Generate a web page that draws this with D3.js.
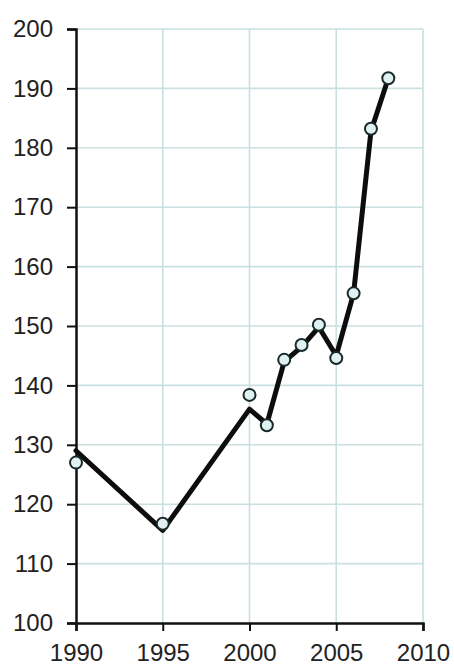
<!DOCTYPE html>
<html><head><meta charset="utf-8">
<script src="https://cdn.jsdelivr.net/npm/d3@7"></script>
<style>body{margin:0;background:#fff}svg{display:block}</style>
</head><body>
<script>
const years = [1990, 1995, 2000, 2001, 2002, 2003, 2004, 2005, 2006, 2007, 2008];
const markerValues = [127, 116.7, 138.4, 133.3, 144.3, 146.8, 150.2, 144.6, 155.5, 183.2, 191.7];
const curveValues = [129, 115.6, 136, 133.5, 144, 146.5, 149.8, 145, 155.5, 182.8, 191.7];
const xTicks = [1990, 1995, 2000, 2005, 2010];
const yTicks = [100, 110, 120, 130, 140, 150, 160, 170, 180, 190, 200];

const W = 454, H = 668;
const m = {left: 76, right: 31, top: 29, bottom: 45};
const svg = d3.select("body").append("svg").attr("width", W).attr("height", H);
const x = d3.scaleLinear().domain([1990, 2010]).range([m.left, W - m.right]);
const y = d3.scaleLinear().domain([100, 200]).range([H - m.bottom, m.top]);

const grid = svg.append("g");
grid.selectAll("line.h").data(yTicks.slice(1)).join("line")
  .attr("x1", x(1990)).attr("x2", x(2010)).attr("y1", d => y(d)).attr("y2", d => y(d))
  .attr("stroke", "#c9dfe0").attr("stroke-width", 1.6);
grid.selectAll("line.v").data(xTicks.slice(1)).join("line")
  .attr("y1", y(100)).attr("y2", y(200)).attr("x1", d => x(d)).attr("x2", d => x(d))
  .attr("stroke", "#c9dfe0").attr("stroke-width", 1.6);

const yAxis = svg.append("g").attr("transform", `translate(${m.left},0)`)
  .call(d3.axisLeft(y).tickValues(yTicks).tickSize(9).tickPadding(14).tickFormat(d3.format("d")));
const xAxis = svg.append("g").attr("transform", `translate(0,${y(100)})`)
  .call(d3.axisBottom(x).tickValues(xTicks).tickSize(8).tickPadding(13).tickFormat(d3.format("d")));
[yAxis, xAxis].forEach(a => {
  a.select(".domain").attr("stroke", "#111").attr("stroke-width", 2.5);
  a.selectAll(".tick line").attr("stroke", "#111").attr("stroke-width", 2);
  a.selectAll("text").attr("font-family", "Liberation Sans, Arial, sans-serif")
    .attr("font-size", 24).attr("fill", "#222");
});

const curveData = years.map((yr, i) => [yr, curveValues[i]]);
svg.append("path").datum(curveData)
  .attr("fill", "none").attr("stroke", "#0d0d0d").attr("stroke-width", 5)
  .attr("stroke-linejoin", "round").attr("stroke-linecap", "round")
  .attr("d", d3.line().x(d => x(d[0])).y(d => y(d[1])).curve(d3.curveLinear));

svg.selectAll("circle.pt").data(years.map((yr, i) => [yr, markerValues[i]])).join("circle")
  .attr("cx", d => x(d[0])).attr("cy", d => y(d[1])).attr("r", 6)
  .attr("fill", "#dff1f1").attr("stroke", "#1a2a2a").attr("stroke-width", 2);
</script>
</body></html>
